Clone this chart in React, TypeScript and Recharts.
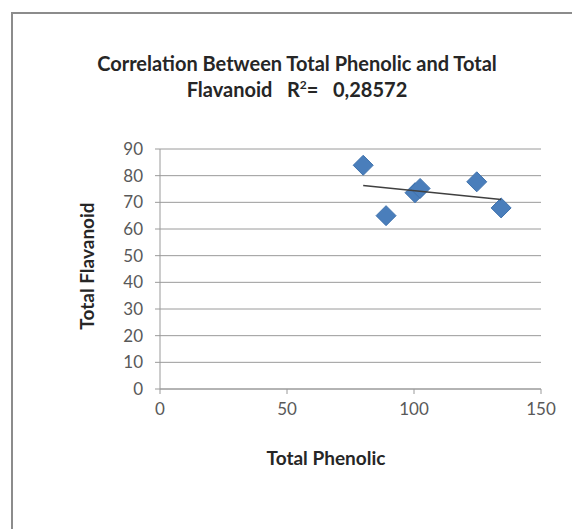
import React from 'react';
import { ScatterChart, Scatter, XAxis, YAxis, CartesianGrid } from 'recharts';

const phenolic = [80, 89, 100.4, 102.4, 124.7, 134.3];
const flavanoid = [83.9, 65, 73.6, 75.2, 77.7, 67.9];
const xTicks = [0, 50, 100, 150];
const yTicks = [0, 10, 20, 30, 40, 50, 60, 70, 80, 90];

const points = phenolic.map((x, i) => ({ x, y: flavanoid[i] }));

// least squares trendline, drawn from min x to max x like Excel does
const n = phenolic.length;
const mx = phenolic.reduce((a, b) => a + b, 0) / n;
const my = flavanoid.reduce((a, b) => a + b, 0) / n;
let sxy = 0;
let sxx = 0;
phenolic.forEach((x, i) => {
  sxy += (x - mx) * (flavanoid[i] - my);
  sxx += (x - mx) * (x - mx);
});
const slope = sxy / sxx;
const icpt = my - slope * mx;
const xMin = Math.min(...phenolic);
const xMax = Math.max(...phenolic);
const trend = [
  { x: xMin, y: icpt + slope * xMin },
  { x: xMax, y: icpt + slope * xMax },
];

const FONT = 'Lato, "Open Sans", sans-serif';
const tickStyle = { fill: '#595959', fontSize: 17, fontFamily: FONT };

const Diamond = (props: any) => {
  const { cx, cy } = props;
  if (cx == null || cy == null) return null;
  const r = 10;
  return (
    <polygon
      points={`${cx},${cy - r} ${cx + r},${cy} ${cx},${cy + r} ${cx - r},${cy}`}
      fill="#4a7ebb"
      stroke="#3f72ad"
      strokeWidth={1}
    />
  );
};

export default function App() {
  return (
    <div style={{ position: 'absolute', left: 0, top: 0, width: 572, height: 529, background: '#fff', overflow: 'hidden' }}>
      <div
        style={{
          position: 'absolute', left: 11, top: 12, width: 600, height: 600,
          borderLeft: '2px solid #8c8c8c', borderTop: '2px solid #8c8c8c',
        }}
      />
      <div
        style={{
          position: 'absolute', left: 0, top: 50, width: 594, textAlign: 'center',
          fontFamily: FONT, fontWeight: 'bold', fontSize: 20, lineHeight: '26px', color: '#262626',
        }}
      >
        Correlation Between Total Phenolic and Total
        <br />
        Flavanoid&nbsp;&nbsp;&nbsp;R<sup style={{ fontSize: 12, verticalAlign: 'super', lineHeight: 0 }}>2</sup>=&nbsp;&nbsp;&nbsp;0,28572
      </div>
      <div
        style={{
          position: 'absolute', left: 87, top: 266, width: 0, height: 0,
        }}
      >
        <div
          style={{
            position: 'absolute', left: -100, top: -13, width: 200, textAlign: 'center',
            transform: 'rotate(-90deg)', fontFamily: FONT, fontWeight: 'bold', fontSize: 19,
            lineHeight: '26px', color: '#262626',
          }}
        >
          Total Flavanoid
        </div>
      </div>
      <div
        style={{
          position: 'absolute', left: 226, top: 445, width: 200, textAlign: 'center',
          fontFamily: FONT, fontWeight: 'bold', fontSize: 19, lineHeight: '26px', color: '#262626',
        }}
      >
        Total Phenolic
      </div>
      <div style={{ position: 'absolute', left: 0, top: 0 }}>
        <ScatterChart width={572} height={529} margin={{ top: 149, right: 31, bottom: 100, left: 100 }}>
          <CartesianGrid vertical={false} stroke="#9a9a9a" strokeWidth={1} />
          <XAxis
            type="number"
            dataKey="x"
            domain={[0, 150]}
            ticks={xTicks}
            interval={0}
            height={40}
            tickSize={5}
            tickMargin={9}
            stroke="#9a9a9a"
            tick={tickStyle}
            allowDataOverflow
          />
          <YAxis
            type="number"
            dataKey="y"
            domain={[0, 90]}
            ticks={yTicks}
            interval={0}
            width={60}
            tickSize={5}
            tickMargin={12}
            stroke="#9a9a9a"
            tick={tickStyle}
            allowDataOverflow
          />
          <Scatter data={points} shape={<Diamond />} isAnimationActive={false} />
          <Scatter
            data={trend}
            line={{ stroke: '#404040', strokeWidth: 1.5 }}
            shape={() => null}
            isAnimationActive={false}
          />
        </ScatterChart>
      </div>
    </div>
  );
}
